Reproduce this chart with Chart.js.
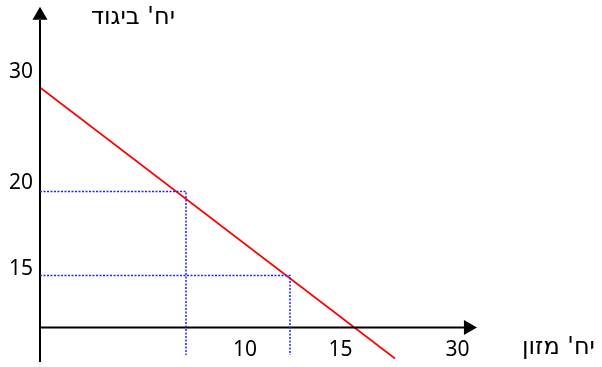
<!DOCTYPE html>
<html>
<head>
<meta charset="utf-8">
<script src="https://cdn.jsdelivr.net/npm/chart.js@4"></script>
<style>
    body { margin: 0; background: #fff; }
    canvas { display: block; }
</style>
</head>
<body>
<canvas id="budgetChart" width="602" height="367"></canvas>
<script>
// Budget line (units of clothing vs units of food) - schematic values
const budgetX = [0, 35.5];
const budgetY = [24, -3.1];

// Dotted guides: corner points on the budget line
const guideX = [14.6, 25];
const guideY = [13.6, 5.2];
const guideBottom = -2.75;

// Axis extents
const axisXEnd = 42.8;
const axisYTop = 30.75;
const axisYBottom = -3.45;

// Tick labels and where they sit
const yTickLabels = ['30', '20', '15'];
const yTickPos = [25.5, 14.4, 5.85];
const xTickLabels = ['10', '15', '30'];
const xTickPos = [20.5, 30.05, 41.75];
const xTickRow = -2.25;

// Axis titles
const yTitle = "יח' ביגוד";
const xTitle = "יח' מזון";

const FONT = '"Noto Sans", "DejaVu Sans", sans-serif';
const HEB_FONT = '"DejaVu Sans", sans-serif';

function line(xs, ys, color, width, dash) {
    return {
        data: xs.map((x, i) => ({ x: x, y: ys[i] })),
        showLine: true,
        borderColor: color,
        borderWidth: width,
        borderDash: dash || [],
        pointRadius: 0,
        fill: false,
        clip: false
    };
}

let datasets = [];

// dotted guides
guideX.forEach((gx, i) => {
    datasets.push(line([0, gx, gx], [guideY[i], guideY[i], guideBottom], '#2222ff', 1.5, [2, 1.5]));
});

// axes
datasets.push(line([0, 0], [axisYBottom, axisYTop], '#000', 2));
datasets.push(line([0, axisXEnd], [0, 0], '#000', 2));

// arrow heads
datasets.push({
    data: [{ x: 0, y: 31.2 }, { x: 42.83, y: 0 }],
    showLine: false,
    pointStyle: 'triangle',
    pointRadius: 8.7,
    rotation: [0, 90],
    pointBackgroundColor: '#000',
    pointBorderColor: '#000',
    pointBorderWidth: 0,
    clip: false
});

// budget line
datasets.push(line(budgetX, budgetY, '#ff0000', 1.6));

// text labels drawn at scale positions
const labelPlugin = {
    id: 'labels',
    afterDatasetsDraw(chart) {
        const c = chart.ctx;
        const sx = chart.scales.x;
        const sy = chart.scales.y;
        c.save();
        c.fillStyle = '#000';
        c.textBaseline = 'middle';
        c.font = '21px ' + FONT;
        c.textAlign = 'right';
        yTickLabels.forEach((t, i) => {
            c.fillText(t, sx.getPixelForValue(-0.7), sy.getPixelForValue(yTickPos[i]));
        });
        c.textAlign = 'center';
        xTickLabels.forEach((t, i) => {
            c.fillText(t, sx.getPixelForValue(xTickPos[i]), sy.getPixelForValue(xTickRow));
        });
        c.font = '24px ' + HEB_FONT;
        c.textAlign = 'right';
        c.fillText(yTitle, sx.getPixelForValue(13.5), sy.getPixelForValue(30.95));
        c.textAlign = 'left';
        c.fillText(xTitle, sx.getPixelForValue(48.2), sy.getPixelForValue(-2.05));
        c.restore();
    }
};

new Chart(document.getElementById('budgetChart'), {
    type: 'scatter',
    data: { datasets: datasets },
    options: {
        responsive: false,
        animation: false,
        events: [],
        layout: { padding: 0, autoPadding: false },
        plugins: {
            legend: { display: false },
            tooltip: { enabled: false }
        },
        scales: {
            x: { type: 'linear', display: false, min: -4, max: 56.2 },
            y: { type: 'linear', display: false, min: -3.95, max: 32.75 }
        }
    },
    plugins: [labelPlugin]
});
</script>
</body>
</html>
